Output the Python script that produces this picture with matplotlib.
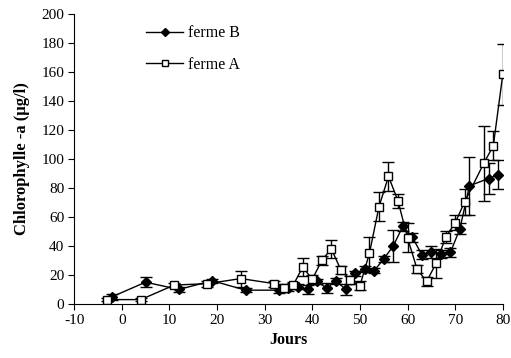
import matplotlib
matplotlib.use("Agg")
import matplotlib.pyplot as plt
import numpy as np

plt.rcParams['font.family'] = ['Liberation Serif', 'DejaVu Serif']
plt.rcParams['axes.unicode_minus'] = False

# ferme B (filled diamonds)
jours_b = [-2, 5, 12, 19, 26, 33, 35, 37, 39, 41, 43, 45, 47, 49, 51, 53, 55, 57, 59,
           61, 63, 65, 67, 69, 71, 73, 77, 79]
chl_b = [5, 15, 10, 16, 9.5, 9.5, 11, 12, 10, 15.5, 11, 16, 10, 21, 24, 23, 31, 40, 53.5,
         46, 34, 36, 34.5, 35.5, 52, 81.5, 86.5, 89]
err_b = [2, 3.5, 1.5, 1.5, 1.5, 2, 2, 2, 3, 2, 3.5, 2, 3.5, 2, 2, 2, 2, 11, 3,
         3, 3, 4, 3, 3, 4, 20, 11, 10]

# ferme A (open squares)
jours_a = [-3, 4, 11, 18, 25, 32, 34, 36, 38, 40, 42, 44, 46, 48, 50, 52, 54, 56, 58,
           60, 62, 64, 66, 68, 70, 72, 76, 78, 80]
chl_a = [3, 3, 13, 14, 17.5, 14, 11, 13, 25.5, 17, 30, 38, 23.5, 16.5, 12.5, 35, 67, 88, 71,
         45.5, 24, 15.5, 28, 46, 56, 70.5, 97, 109, 158.5]
err_a = [1, 1, 1.5, 2, 5.5, 2, 2.5, 2, 6, 3, 3, 6, 3, 3, 3, 11.5, 10, 10, 4.5,
         10, 3, 3, 10, 4, 5, 9, 26, 10, 21]

fig = plt.figure(figsize=(5.11, 3.58), dpi=100)
ax = fig.add_axes([0.145, 0.151, 0.839, 0.81])

ax.errorbar(jours_b, chl_b, yerr=err_b, color='black', lw=1, marker='D', ms=5.5,
            mfc='black', mec='black', capsize=4, elinewidth=1, capthick=1, label='ferme B')
ax.errorbar(jours_a, chl_a, yerr=err_a, color='black', lw=1, marker='s', ms=6,
            mfc='white', mec='black', mew=1, capsize=4, elinewidth=1, capthick=1,
            label='ferme A')

ax.set_xlim(-10, 80)
ax.set_ylim(0, 200)
ax.set_xticks(np.arange(-10, 81, 10))
ax.set_yticks(np.arange(0, 201, 20))
ax.spines['top'].set_visible(False)
ax.spines['right'].set_visible(False)
ax.tick_params(direction='out', length=4, labelsize=11, width=0.8, pad=3)

ax.set_xlabel('Jours', fontsize=11.5, fontweight='bold', labelpad=4)
ax.set_ylabel('Chlorophylle -a (µg/l)', fontsize=12, fontweight='bold', labelpad=8)

handles, labels = ax.get_legend_handles_labels()
handles = [h[0] for h in handles]
ax.legend(handles, labels, loc='upper left', bbox_to_anchor=(0.135, 1.01), frameon=False,
          fontsize=11.5, handlelength=2.3, labelspacing=0.95, handletextpad=0.3,
          markerscale=0.75)

fig.savefig('out.png', dpi=100)
